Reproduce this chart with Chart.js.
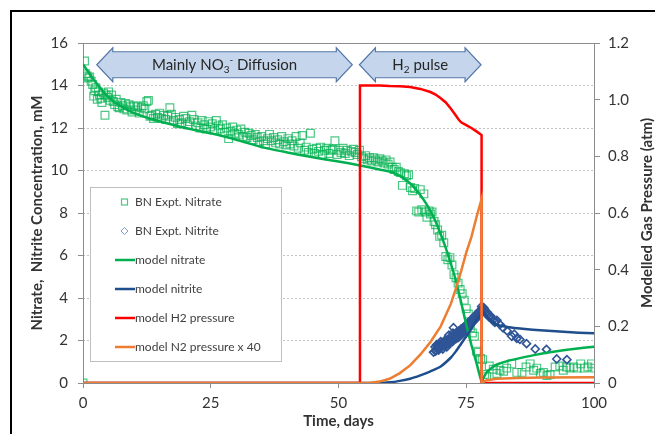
<!DOCTYPE html>
<html>
<head>
<meta charset="utf-8">
<script src="https://cdn.jsdelivr.net/npm/chart.js@4.4.1/dist/chart.umd.min.js"></script>
<style>
  html, body { margin: 0; padding: 0; background: #fff; }
  #wrap { position: relative; width: 655px; height: 434px; }
</style>
</head>
<body>
<div id="wrap"><canvas id="chart"></canvas></div>
<script>
// tick labels
const dayTicks = [0, 25, 50, 75, 100];
const concTicks = [0, 2, 4, 6, 8, 10, 12, 14, 16];
const pressureTicks = [0, 0.2, 0.4, 0.6, 0.8, 1, 1.2];

// BN experiment, nitrate (mM)
const nitrateObsDays = [
  0, 0.3, 0.5, 0.8, 1.0, 1.3, 1.6, 1.9, 2.1, 2.3,
  2.5, 2.8, 3.0, 3.2, 3.5, 3.7, 4.0, 4.3, 4.5, 4.8,
  5.0, 5.3, 5.6, 5.9, 6.2, 6.5, 6.8, 7.1, 7.4, 7.7,
  8.0, 8.3, 8.6, 9.0, 9.3, 9.6, 10.0, 10.3, 10.7, 11.0,
  11.4, 11.8, 12.1, 12.5, 12.8, 13.1, 13.4, 13.8, 14.2, 14.6,
  15.0, 15.4, 15.8, 16.2, 16.6, 17.0, 17.3, 17.7, 18.1, 18.5,
  18.9, 19.3, 19.7, 20.1, 20.5, 20.9, 21.3, 21.7, 22.1, 22.5,
  22.9, 23.3, 23.7, 24.1, 24.5, 24.9, 25.3, 25.7, 26.1, 26.5,
  26.9, 27.3, 27.7, 28.1, 28.5, 28.9, 29.3, 29.7, 30.1, 30.5,
  30.9, 31.3, 31.7, 32.1, 32.5, 32.9, 33.3, 33.7, 34.1, 34.5,
  34.9, 35.3, 35.7, 36.1, 36.5, 36.9, 37.3, 37.7, 38.1, 38.5,
  38.9, 39.3, 39.7, 40.1, 40.5, 40.9, 41.3, 41.7, 42.1, 42.5,
  42.9, 43.3, 43.7, 44.1, 44.5, 44.9, 45.3, 45.7, 46.1, 46.5,
  46.9, 47.3, 47.7, 48.1, 48.5, 48.9, 49.3, 49.7, 50.1, 50.5,
  50.9, 51.3, 51.7, 52.1, 52.5, 52.9, 53.3, 53.7, 54.1, 54.5,
  54.9, 55.3, 55.7, 56.1, 56.5, 56.9, 57.3, 57.7, 58.1, 58.5,
  58.9, 59.3, 59.7, 60.1, 60.5, 60.9, 61.3, 61.7, 62.1, 62.5,
  62.9, 63.3, 63.7, 64.1, 64.5, 64.9, 65.3, 65.7, 66.0, 66.3,
  66.7, 67.0, 67.3, 67.7, 68.0, 68.3, 68.7, 69.0, 69.4, 69.8,
  70.2, 70.6, 71.0, 71.4, 71.8, 72.2, 72.6, 73.0, 73.4, 73.8,
  74.2, 74.6, 75.0, 75.4, 75.8, 76.2, 76.6, 77.0, 77.4, 77.8,
  78.2, 78.6, 79.0, 79.5, 80.3, 81.0, 81.6, 82.3, 82.9, 83.9,
  84.9, 85.9, 86.7, 87.5, 88.2, 88.8, 89.5, 90.1, 90.8, 91.4,
  92.4, 93.3, 94.0, 94.6, 95.3, 96.0, 96.7, 97.4, 98.1, 98.8,
  99.5, 100
];
const nitrateObs = [
  0, 15.15, 14.55, 14.45, 14.35, 14.4, 14.2, 14.05, 13.5, 13.75,
  13.9, 13.35, 13.7, 13.55, 13.4, 13.2, 13.65, 12.6, 13.55, 13.45,
  13.7, 13.3, 13.55, 13.25, 13.1, 13.35, 13.0, 12.95, 13.2, 13.05,
  12.9, 13.15, 12.85, 13.1, 13.0, 12.75, 13.05, 12.85, 13.0, 12.7,
  12.95, 13.05, 12.9, 13.25, 13.3, 12.55, 12.6, 12.45, 12.65, 12.5,
  12.7, 12.45, 12.6, 12.4, 12.55, 12.95, 12.65, 12.35, 12.5, 12.2,
  12.4, 12.25, 12.55, 12.45, 12.15, 12.3, 12.6, 12.4, 12.1, 12.25,
  12.0, 12.35, 12.15, 11.95, 12.3, 12.05, 12.2, 11.9, 12.35, 12.1,
  11.95, 12.15, 11.8, 12.0, 11.5, 11.85, 12.05, 11.75, 11.9, 11.7,
  11.95, 11.6, 11.8, 11.55, 11.75, 11.65, 11.45, 11.7, 11.55, 11.35,
  11.6, 11.4, 11.25, 11.5, 11.7, 11.4, 11.55, 11.3, 11.45, 11.25,
  11.6, 11.35, 11.2, 11.5, 11.25, 11.4, 11.15, 11.6, 11.05, 11.3,
  11.65, 10.95, 11.1, 10.85, 11.75, 11.0, 10.8, 11.05, 10.9, 11.1,
  10.75, 10.95, 11.05, 10.8, 10.95, 11.0, 11.4, 10.75, 10.95, 10.85,
  11.05, 10.8, 10.95, 10.7, 10.9, 11.0, 10.85, 10.75, 10.95, 10.65,
  10.55, 10.7, 10.5, 10.6, 10.45, 10.6, 10.5, 10.4, 10.55, 10.45,
  10.35, 10.5, 10.3, 10.4, 10.15, 10.05, 10.15, 9.95, 9.9, 9.3,
  9.85, 9.75, 9.8, 9.2, 9.05, 9.15, 8.1, 8.05, 9.1, 8.15,
  8.9, 8.05, 7.8, 8.1, 7.95, 8.05, 7.6, 7.45, 7.2, 6.9,
  6.95, 6.6, 5.95, 5.8, 5.9, 5.55, 5.1, 4.95, 4.7, 4.4,
  4.2, 3.9, 3.5, 3.25, 2.6, 2.35, 2.2, 1.5, 1.45, 1.15,
  1.1, 0.4, 0.3, 0.8, 0.65, 0.45, 0.6, 0.55, 0.7, 0.9,
  0.5, 0.5, 0.75, 0.9, 0.6, 0.7, 0.45, 0.5, 0.35, 0.4,
  0.75, 0.8, 0.6, 0.75, 0.7, 0.75, 0.7, 0.9, 0.7, 0.75,
  0.9, 0.7
];

// BN experiment, nitrite (mM)
const nitriteObsDays = [
  68.9, 69.1, 69.3, 69.5, 69.7, 69.9, 70.1, 70.3, 70.5, 70.7,
  70.9, 71.1, 71.3, 71.5, 71.7, 71.9, 72.1, 72.3, 72.5, 72.5,
  72.7, 72.9, 73.1, 73.3, 73.5, 73.7, 73.9, 74.1, 74.3, 74.5,
  74.7, 74.9, 75.1, 75.3, 75.5, 75.7, 75.9, 76.1, 76.3, 76.5,
  76.7, 76.9, 77.1, 77.3, 77.5, 77.7, 77.9, 78.1, 78.3, 78.5,
  78.7, 78.9, 79.2, 79.5, 79.8, 80.2, 80.6, 81.0, 81.6, 82.2,
  83.0, 83.9, 84.4, 84.9, 85.5, 86.8, 88.5, 90.7, 92.7, 94.7,
  69.0, 69.4, 69.8, 70.2, 70.6, 71.0, 71.4, 71.8, 72.2, 72.6,
  73.0, 73.4, 73.8, 74.2, 74.6, 75.0, 75.4, 75.8, 76.2, 76.6,
  77.0, 77.4, 77.8, 78.2, 78.6, 79.0, 71.6, 72.4, 73.2, 74.0,
  68.6, 69.2, 69.6, 70.0, 70.4, 70.8, 71.2, 72.0, 72.8, 73.6,
  74.4, 75.2, 76.0, 76.8, 77.6, 78.0, 78.4, 79.3, 80.0, 80.8
];
const nitriteObs = [
  1.7, 1.55, 1.75, 1.6, 1.8, 1.65, 1.85, 1.7, 1.9, 1.75,
  1.95, 1.8, 2.0, 1.85, 2.05, 1.9, 2.1, 1.95, 2.15, 2.6,
  2.05, 2.2, 2.1, 2.3, 2.15, 2.4, 2.25, 2.45, 2.35, 2.55,
  2.45, 2.65, 2.55, 2.75, 2.65, 2.85, 2.8, 2.95, 2.9, 3.05,
  3.0, 3.15, 3.1, 3.25, 3.2, 3.35, 3.3, 3.45, 3.4, 3.5,
  3.4, 3.3, 3.2, 3.1, 3.15, 2.95, 2.85, 2.95, 2.75, 2.6,
  2.45, 2.2, 2.3, 2.1, 2.05, 1.85, 1.6, 1.58, 1.13, 1.1,
  1.5, 1.7, 1.75, 1.8, 1.85, 1.9, 1.95, 2.0, 2.05, 2.1,
  2.15, 2.2, 2.3, 2.4, 2.5, 2.6, 2.7, 2.8, 2.85, 2.95,
  3.05, 3.15, 3.25, 3.35, 3.45, 3.35, 2.25, 2.35, 2.4, 2.55,
  1.45, 1.8, 1.55, 1.95, 1.6, 2.0, 1.7, 2.2, 2.3, 2.45,
  2.6, 2.8, 3.0, 3.2, 3.4, 3.6, 3.55, 3.25, 3.05, 2.9
];

// model nitrate (mM)
const modelNitrateDays = [0, 1, 2, 3, 4, 5, 6, 8, 10, 13, 16, 20, 23, 25, 30, 35, 40, 45, 50, 54, 58,
  60, 62, 64, 65, 66, 67, 68, 69, 70, 71, 72, 73, 74, 75, 76, 77, 78, 78.5, 79, 80, 81,
  83, 85.5, 88, 92, 96, 100];
const modelNitrate = [15.0, 14.65, 14.3, 14.0, 13.7, 13.45, 13.25, 12.95, 12.7, 12.45, 12.25, 12.0, 11.85, 11.75, 11.45, 11.1, 10.85, 10.62, 10.42, 10.25, 10.05,
  9.95, 9.75, 9.4, 9.15, 8.85, 8.5, 8.1, 7.6, 7.0, 6.35, 5.6, 4.8, 3.8, 2.75, 1.8, 0.95, 0.08, 0.3, 0.5, 0.72, 0.87,
  1.03, 1.17, 1.3, 1.47, 1.6, 1.71];

// model nitrite (mM)
const modelNitriteDays = [0, 58, 60, 62, 64, 66, 68, 70, 72, 73, 74, 75, 76, 77, 78, 78.3, 79, 80, 81, 83, 85, 88, 91, 94, 97, 100];
const modelNitrite = [0, 0, 0.03, 0.1, 0.2, 0.36, 0.55, 0.78, 1.2, 1.5, 1.85, 2.2, 2.55, 2.95, 3.28, 3.33, 3.12, 2.88, 2.74, 2.64, 2.58, 2.51, 2.46, 2.41, 2.37, 2.34];

// model H2 pressure (atm)
const h2Days = [0, 54.2, 54.2, 56, 58, 60, 62, 64, 66, 68, 69, 70, 71, 72, 73, 73.5, 74, 75, 76, 77, 78, 78, 100];
const h2Pressure = [0, 0, 1.05, 1.05, 1.05, 1.048, 1.047, 1.045, 1.038, 1.027, 1.018, 1.005, 0.99, 0.968, 0.943, 0.93, 0.92, 0.91, 0.9, 0.888, 0.875, 0, 0];

// model N2 pressure x 40 (atm)
const n2Days = [0, 56, 58, 60, 62, 64, 66, 68, 70, 72, 73, 74, 75, 76, 77, 78, 78, 79, 81, 85, 90, 100];
const n2Pressure = [0, 0, 0.005, 0.015, 0.035, 0.062, 0.1, 0.145, 0.2, 0.28, 0.335, 0.395, 0.46, 0.515, 0.585, 0.65, 0, 0.01, 0.015, 0.018, 0.019, 0.02];

const GREEN = '#00B050';
const GREEN_PT = 'rgba(0,176,80,0.7)';
const BLUE = '#1F4E8C';
const BLUE_PT = '#2F5597';
const RED = '#FF0000';
const ORANGE = '#ED7D31';
const AXIS_GREY = '#8C8C8C';
const TEXT = '#333333';
const FONT = 'Lato, "Open Sans", sans-serif';

function pairs(xs, ys) {
  return xs.map((x, i) => ({ x: x, y: ys[i] }));
}

const legendItems = [
  { label: 'BN Expt. Nitrate', kind: 'square', color: GREEN_PT },
  { label: 'BN Expt. Nitrite', kind: 'diamond', color: '#7F9CC9' },
  { label: 'model nitrate', kind: 'line', color: GREEN },
  { label: 'model nitrite', kind: 'line', color: BLUE },
  { label: 'model H2 pressure', kind: 'line', color: RED },
  { label: 'model N2 pressure x 40', kind: 'line', color: ORANGE }
];

// block arrows above the data: day span and label pieces
const arrowNotes = [
  { from: 2.7, to: 52.7, parts: [['Mainly NO', 0], ['3', 1], ['-', -1], [' Diffusion', 0]] },
  { from: 54.1, to: 77.9, parts: [['H', 0], ['2', 1], [' pulse', 0]] }
];

function drawArrow(ctx, x1, x2, yc) {
  const hh = 17, bh = 13, head = 16;
  ctx.beginPath();
  ctx.moveTo(x1, yc);
  ctx.lineTo(x1 + head, yc - hh);
  ctx.lineTo(x1 + head, yc - bh);
  ctx.lineTo(x2 - head, yc - bh);
  ctx.lineTo(x2 - head, yc - hh);
  ctx.lineTo(x2, yc);
  ctx.lineTo(x2 - head, yc + hh);
  ctx.lineTo(x2 - head, yc + bh);
  ctx.lineTo(x1 + head, yc + bh);
  ctx.lineTo(x1 + head, yc + hh);
  ctx.closePath();
  ctx.fillStyle = '#C5D6EC';
  ctx.fill();
  ctx.lineWidth = 1.2;
  ctx.strokeStyle = '#5478A8';
  ctx.stroke();
}

function drawRichText(ctx, parts, cx, cy) {
  const big = '15px ' + FONT, small = '10px ' + FONT;
  let total = 0;
  parts.forEach(p => { ctx.font = p[1] ? small : big; total += ctx.measureText(p[0]).width; });
  let x = cx - total / 2;
  ctx.fillStyle = '#262626';
  ctx.textAlign = 'left';
  ctx.textBaseline = 'middle';
  parts.forEach(p => {
    ctx.font = p[1] ? small : big;
    const dy = p[1] === 1 ? 5 : (p[1] === -1 ? -5 : 0);
    ctx.fillText(p[0], x, cy + dy);
    x += ctx.measureText(p[0]).width;
  });
}

const decorations = {
  id: 'decorations',
  beforeDatasetsDraw(chart) {
    const { ctx, chartArea: a } = chart;
    ctx.save();
    ctx.strokeStyle = AXIS_GREY;
    ctx.lineWidth = 1;
    ctx.strokeRect(a.left + 0.5, a.top + 0.5, a.right - a.left, a.bottom - a.top);
    ctx.restore();
  },
  afterDatasetsDraw(chart) {
    const { ctx, chartArea: a, scales } = chart;
    const xs = scales.x, yl = scales.y;
    ctx.save();

    // arrows
    const yc = yl.getPixelForValue(15) + 0.5;
    arrowNotes.forEach(n => {
      const x1 = xs.getPixelForValue(n.from), x2 = xs.getPixelForValue(n.to);
      drawArrow(ctx, x1, x2, yc);
      drawRichText(ctx, n.parts, (x1 + x2) / 2, yc);
    });

    // legend box
    const lx = a.left + 7, ly = a.top + 144, lw = 191, lh = 174;
    ctx.fillStyle = '#fff';
    ctx.fillRect(lx, ly, lw, lh);
    ctx.strokeStyle = '#BFBFBF';
    ctx.lineWidth = 1;
    ctx.strokeRect(lx + 0.5, ly + 0.5, lw, lh);
    ctx.font = '12px ' + FONT;
    ctx.textBaseline = 'middle';
    ctx.textAlign = 'left';
    legendItems.forEach((it, i) => {
      const y = ly + 15 + i * 29;
      const mx = lx + 34.5;
      ctx.strokeStyle = it.color;
      if (it.kind === 'square') {
        ctx.lineWidth = 1.2;
        ctx.strokeRect(mx - 3, y - 3, 6, 6);
      } else if (it.kind === 'diamond') {
        ctx.lineWidth = 1;
        ctx.beginPath();
        ctx.moveTo(mx - 3.5, y); ctx.lineTo(mx, y - 3.5); ctx.lineTo(mx + 3.5, y); ctx.lineTo(mx, y + 3.5);
        ctx.closePath();
        ctx.stroke();
      } else {
        ctx.lineWidth = 2.5;
        ctx.beginPath();
        ctx.moveTo(lx + 25, y); ctx.lineTo(lx + 45, y);
        ctx.stroke();
      }
      ctx.fillStyle = '#404040';
      ctx.fillText(it.label, lx + 45, y);
    });

    // right axis title
    ctx.translate(647, (a.top + a.bottom) / 2);
    ctx.rotate(-Math.PI / 2);
    ctx.font = 'bold 15px ' + FONT;
    ctx.textAlign = 'center';
    ctx.fillStyle = TEXT;
    ctx.fillText('Modelled Gas Pressure (atm)', 0, 0);
    ctx.restore();

    // outer chart frame (cropped)
    ctx.save();
    ctx.fillStyle = '#000';
    ctx.fillRect(10, 10, chart.width - 10, 2);
    ctx.fillRect(10, 10, 2, chart.height - 10);
    ctx.restore();
  }
};

Chart.defaults.font.family = FONT;
Chart.defaults.color = TEXT;

new Chart(document.getElementById('chart'), {
  type: 'scatter',
  data: {
    datasets: [
      {
        label: 'BN Expt. Nitrate', data: pairs(nitrateObsDays, nitrateObs), yAxisID: 'y', order: 5,
        pointStyle: 'rect', pointRadius: 5.5, borderWidth: 1.2,
        borderColor: GREEN_PT, backgroundColor: 'rgba(0,0,0,0)'
      },
      {
        label: 'BN Expt. Nitrite', data: pairs(nitriteObsDays, nitriteObs), yAxisID: 'y', order: 4,
        pointStyle: 'rectRot', pointRadius: 4, borderWidth: 1.6,
        borderColor: BLUE_PT, backgroundColor: 'rgba(0,0,0,0)'
      },
      {
        label: 'model nitrate', data: pairs(modelNitrateDays, modelNitrate), yAxisID: 'y', order: 3,
        showLine: true, pointRadius: 0, borderWidth: 2.5, borderColor: GREEN, tension: 0.2
      },
      {
        label: 'model nitrite', data: pairs(modelNitriteDays, modelNitrite), yAxisID: 'y', order: 2,
        showLine: true, pointRadius: 0, borderWidth: 2.5, borderColor: BLUE, tension: 0.2
      },
      {
        label: 'model H2 pressure', data: pairs(h2Days, h2Pressure), yAxisID: 'y2', order: 1,
        showLine: true, pointRadius: 0, borderWidth: 2.5, borderColor: RED, tension: 0
      },
      {
        label: 'model N2 pressure x 40', data: pairs(n2Days, n2Pressure), yAxisID: 'y2', order: 0,
        showLine: true, pointRadius: 0, borderWidth: 2.5, borderColor: ORANGE, tension: 0
      }
    ]
  },
  options: {
    responsive: true,
    maintainAspectRatio: false,
    animation: false,
    layout: { padding: { top: 43, left: 0, right: 0, bottom: 0 } },
    plugins: { legend: { display: false }, tooltip: { enabled: false } },
    scales: {
      x: {
        type: 'linear', min: 0, max: 100,
        afterBuildTicks: s => { s.ticks = dayTicks.map(v => ({ value: v })); },
        afterFit: s => { s.height = 51; },
        grid: { drawOnChartArea: false, tickLength: 5, tickColor: AXIS_GREY },
        border: { display: false },
        ticks: { font: { size: 15 }, color: TEXT, padding: 6, maxRotation: 0 },
        title: { display: true, text: 'Time, days', font: { size: 15, weight: 'bold' }, color: TEXT, padding: { top: 0, bottom: 4 } }
      },
      y: {
        type: 'linear', position: 'left', min: 0, max: 16,
        afterBuildTicks: s => { s.ticks = concTicks.map(v => ({ value: v })); },
        afterFit: s => { s.width = 83; },
        grid: { color: '#C4C4C4', tickLength: 5, tickColor: AXIS_GREY },
        border: { display: false, dash: [2, 2] },
        ticks: { font: { size: 15 }, color: TEXT, padding: 10 },
        title: { display: true, text: 'Nitrate,  Nitrite Concentration, mM', font: { size: 15, weight: 'bold' }, color: TEXT, padding: { top: 28, bottom: 0 } }
      },
      y2: {
        type: 'linear', position: 'right', min: 0, max: 1.2,
        afterBuildTicks: s => { s.ticks = pressureTicks.map(v => ({ value: v })); },
        afterFit: s => { s.width = 61; },
        grid: { drawOnChartArea: false, tickLength: 6, tickColor: AXIS_GREY },
        border: { display: false },
        ticks: { font: { size: 15 }, color: TEXT, padding: 8 }
      }
    }
  },
  plugins: [decorations]
});
</script>
</body>
</html>
